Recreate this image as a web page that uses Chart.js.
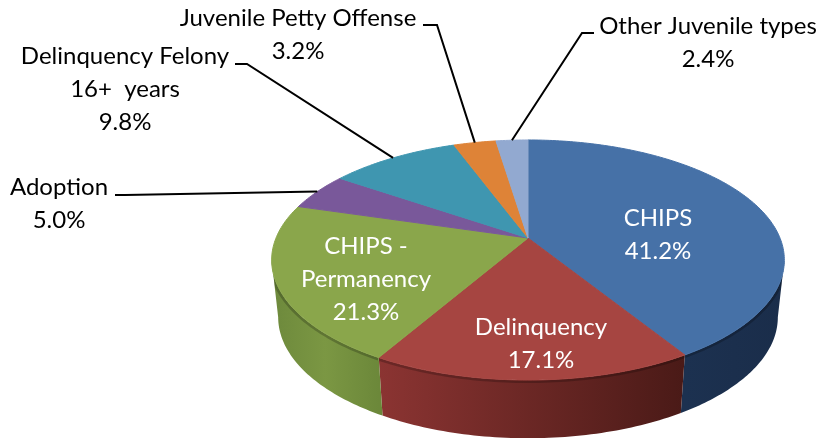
<!DOCTYPE html>
<html>
<head>
<meta charset="utf-8">
<style>
    body { margin: 0; background: #fff; }
    canvas { display: block; }
</style>
<script src="https://cdn.jsdelivr.net/npm/chart.js@4"></script>
</head>
<body>
<canvas id="pie" width="820" height="438"></canvas>
<script>
const categories = ['CHIPS', 'Delinquency', 'CHIPS - Permanency', 'Adoption', 'Delinquency Felony 16+  years', 'Juvenile Petty Offense', 'Other Juvenile types'];
const percents = [41.2, 17.1, 21.3, 5.0, 9.8, 3.2, 2.4];
const labelLines = [['CHIPS'], ['Delinquency'], ['CHIPS -', 'Permanency'], ['Adoption'], ['Delinquency Felony', '16+  years'], ['Juvenile Petty Offense'], ['Other Juvenile types']];

const topColors = ['#4671a7', '#a64541', '#8aa64b', '#79589a', '#3f96b0', '#de8337', '#92a9d0'];
const wallStops = [['#1c3150', '#1a2d4a'], ['#8b3432', '#4a1a17'], ['#6d893c', '#7b9743', '#6c883a'], null, null, null, null];

// text centre x, first line centre y, white or not
const labelSpots = [[658, 218, true], [541, 327, true], [366, 246, true], [59, 187], [125, 56], [298, 18], [708, 26]];
// label end of each leader line (start, elbow)
const leaders = [null, null, null, [[115, 195], [125, 195]], [[235, 64], [247, 64]], [[423, 25], [437, 25]], [[594, 33], [582, 33]]];

// tilted disc: the perspective puts the pie centre above the middle of the ellipse
const tilt = 0.1833;
const topFace = { cx: 528, cy: 238, a: 252, b: 116 };
const bottomFace = { cx: 528, cy: 295, a: 245.6, b: 117 };

function project(face, u, v) {
    const d = 1 - tilt * v;
    return [face.cx + face.a * u / d, face.cy + face.b * v / d];
}

function onRim(face, angle) {
    return project(face, Math.cos(angle), Math.sin(angle));
}

function traceRim(ctx, face, a0, a1) {
    const steps = 60;
    for (let s = 0; s <= steps; s++) {
        const p = onRim(face, a0 + (a1 - a0) * s / steps);
        ctx.lineTo(p[0], p[1]);
    }
}

let savedPath = null;

const tiltedPie = {
    id: 'tiltedPie',
    beforeDatasetsDraw(chart) {
        const ctx = chart.ctx;
        const from = Math.asin(tilt);
        const to = Math.PI - from;
        chart.getDatasetMeta(0).data.forEach((arc, i) => {
            const start = Math.max(arc.startAngle, from);
            const end = Math.min(arc.endAngle, to);
            if (end <= start || !wallStops[i]) return;
            const left = onRim(topFace, end)[0];
            const right = onRim(topFace, start)[0];
            const grad = ctx.createLinearGradient(left, 0, right, 0);
            wallStops[i].forEach((c, k) => grad.addColorStop(k / (wallStops[i].length - 1), c));
            ctx.save();
            ctx.beginPath();
            traceRim(ctx, topFace, start, end);
            traceRim(ctx, bottomFace, end, start);
            ctx.closePath();
            ctx.fillStyle = grad;
            ctx.fill();
            ctx.clip();

            // dark band right under the top edge
            ctx.beginPath();
            traceRim(ctx, topFace, start, end);
            ctx.strokeStyle = 'rgba(0,0,0,0.22)';
            ctx.lineWidth = 6;
            ctx.stroke();
            ctx.restore();
        });
    },
    // chart.js still draws the slices, its path calls just go through the projection
    beforeDatasetDraw(chart) {
        const ctx = chart.ctx;
        const first = chart.getDatasetMeta(0).data[0];
        const mapPoint = (x, y) => project(topFace, (x - first.x) / first.outerRadius, (y - first.y) / first.outerRadius);
        savedPath = { arc: ctx.arc, lineTo: ctx.lineTo, moveTo: ctx.moveTo };
        ctx.moveTo = (x, y) => { const p = mapPoint(x, y); savedPath.moveTo.call(ctx, p[0], p[1]); };
        ctx.lineTo = (x, y) => { const p = mapPoint(x, y); savedPath.lineTo.call(ctx, p[0], p[1]); };
        ctx.arc = (x, y, r, a0, a1) => {
            const steps = Math.max(2, Math.ceil(Math.abs(a1 - a0) * 60));
            for (let s = 0; s <= steps; s++) {
                const a = a0 + (a1 - a0) * s / steps;
                ctx.lineTo(x + r * Math.cos(a), y + r * Math.sin(a));
            }
        };
    },
    afterDatasetDraw(chart) {
        delete chart.ctx.arc;
        delete chart.ctx.lineTo;
        delete chart.ctx.moveTo;
    },
    afterDraw(chart) {
        const ctx = chart.ctx;
        ctx.save();
        ctx.strokeStyle = '#000';
        ctx.lineWidth = 2;
        chart.getDatasetMeta(0).data.forEach((arc, i) => {
            if (!leaders[i]) return;
            const end = onRim(topFace, (arc.startAngle + arc.endAngle) / 2);
            ctx.beginPath();
            ctx.moveTo(leaders[i][0][0], leaders[i][0][1]);
            ctx.lineTo(leaders[i][1][0], leaders[i][1][1]);
            ctx.lineTo(end[0], end[1]);
            ctx.stroke();
        });
        ctx.font = '24px Lato';
        ctx.textAlign = 'center';
        ctx.textBaseline = 'middle';
        labelLines.forEach((lines, i) => {
            const spot = labelSpots[i];
            ctx.fillStyle = spot[2] ? '#fff' : '#000';
            lines.concat(percents[i].toFixed(1) + '%').forEach((line, k) => {
                ctx.fillText(line, spot[0], spot[1] + k * 33);
            });
        });
        ctx.restore();
    }
};

const myChart = new Chart(document.getElementById('pie').getContext('2d'), {
    type: 'pie',
    data: {
        labels: categories,
        datasets: [{
            data: percents,
            backgroundColor: topColors,
            borderColor: topColors,
            borderWidth: 1
        }]
    },
    options: {
        responsive: false,
        animation: false,
        layout: { padding: { left: 272, right: 35, top: 140, bottom: 102 } },
        plugins: { legend: { display: false }, tooltip: { enabled: false } }
    },
    plugins: [tiltedPie]
});
</script>
</body>
</html>
